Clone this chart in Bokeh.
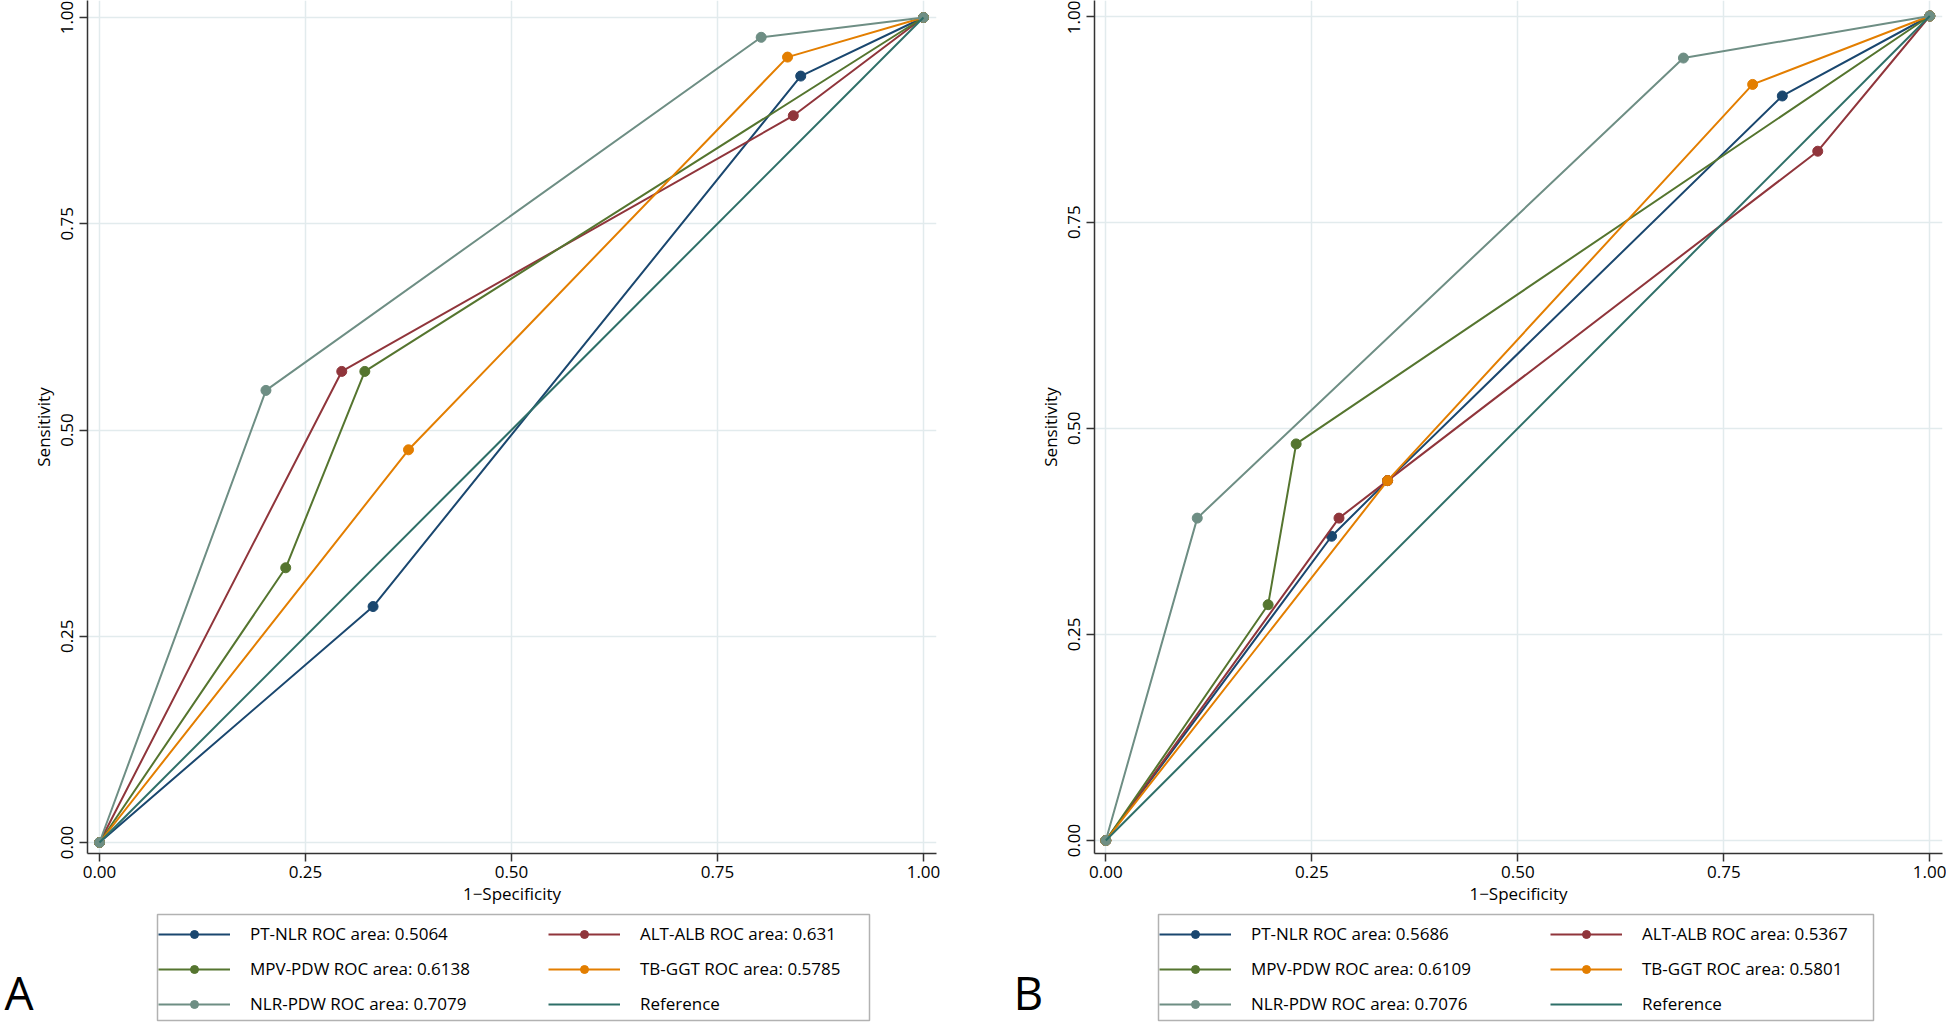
from bokeh.plotting import figure
from bokeh.models import Legend, LegendItem, Label, FixedTicker, Range1d, BoxAnnotation
from bokeh.layouts import row, column
from bokeh.embed import file_html
from bokeh.resources import INLINE

# ---------------- data ----------------
tick_values = [0, 0.25, 0.5, 0.75, 1.0]
tick_labels = ["0.00", "0.25", "0.50", "0.75", "1.00"]

series_colors = {
    "PT-NLR": "#1a476f",
    "ALT-ALB": "#90353b",
    "MPV-PDW": "#55752f",
    "TB-GGT": "#e37e00",
    "NLR-PDW": "#6e8e84",
}
reference_color = "#2e6f68"
reference_x = [0, 1]
reference_y = [0, 1]

# Panel A
a_pt_nlr_x = [0, 0.332, 0.851, 1]
a_pt_nlr_y = [0, 0.286, 0.929, 1]
a_alt_alb_x = [0, 0.294, 0.842, 1]
a_alt_alb_y = [0, 0.571, 0.881, 1]
a_mpv_pdw_x = [0, 0.226, 0.322, 1]
a_mpv_pdw_y = [0, 0.333, 0.571, 1]
a_tb_ggt_x = [0, 0.375, 0.835, 1]
a_tb_ggt_y = [0, 0.476, 0.952, 1]
a_nlr_pdw_x = [0, 0.202, 0.803, 1]
a_nlr_pdw_y = [0, 0.548, 0.976, 1]
a_areas = {"PT-NLR": "0.5064", "ALT-ALB": "0.631", "MPV-PDW": "0.6138",
           "TB-GGT": "0.5785", "NLR-PDW": "0.7079"}

# Panel B
b_pt_nlr_x = [0, 0.274, 0.342, 0.821, 1]
b_pt_nlr_y = [0, 0.369, 0.4365, 0.903, 1]
b_alt_alb_x = [0, 0.283, 0.342, 0.864, 1]
b_alt_alb_y = [0, 0.391, 0.4365, 0.836, 1]
b_mpv_pdw_x = [0, 0.197, 0.231, 1]
b_mpv_pdw_y = [0, 0.286, 0.481, 1]
b_tb_ggt_x = [0, 0.342, 0.785, 1]
b_tb_ggt_y = [0, 0.4365, 0.917, 1]
b_nlr_pdw_x = [0, 0.111, 0.701, 1]
b_nlr_pdw_y = [0, 0.391, 0.949, 1]
b_areas = {"PT-NLR": "0.5686", "ALT-ALB": "0.5367", "MPV-PDW": "0.6109",
           "TB-GGT": "0.5801", "NLR-PDW": "0.7076"}

legend_col1 = ["PT-NLR", "MPV-PDW", "NLR-PDW"]
legend_col2 = ["ALT-ALB", "TB-GGT", "Reference"]

FONT = "Open Sans"
FRAME_H = 853
PLOT_H = 908
LEG_H = 114
TOTAL_W = 1946


def make_plot(series, width, border_left, border_right, xr, yr):
    p = figure(width=width, height=PLOT_H, output_backend="svg",
               toolbar_location=None,
               x_range=Range1d(*xr), y_range=Range1d(*yr),
               min_border_left=border_left, min_border_right=border_right,
               min_border_top=0, min_border_bottom=PLOT_H - FRAME_H)
    p.outline_line_color = None
    p.background_fill_color = "white"
    p.border_fill_color = "white"

    for ax in (p.xaxis[0], p.yaxis[0]):
        ax.ticker = FixedTicker(ticks=tick_values)
        ax.major_label_overrides = {v: s for v, s in zip(tick_values, tick_labels)}
        ax.major_tick_in = 0
        ax.major_tick_out = 8
        ax.minor_tick_in = 0
        ax.minor_tick_out = 0
        ax.major_tick_line_color = "#333333"
        ax.major_tick_line_width = 1.5
        ax.axis_line_color = "#333333"
        ax.axis_line_width = 1.5
        ax.major_label_text_font = FONT
        ax.major_label_text_font_size = "17px"
        ax.major_label_text_color = "black"
        ax.axis_label_text_font = FONT
        ax.axis_label_text_font_size = "17px"
        ax.axis_label_text_font_style = "normal"
        ax.axis_label_text_color = "black"
    p.xaxis.major_label_standoff = 4
    p.xaxis.axis_label_standoff = 1
    p.yaxis.major_label_standoff = 7
    p.yaxis.axis_label_standoff = 3
    p.xaxis.axis_label = "1\u2212Specificity"
    p.yaxis.axis_label = "Sensitivity"
    p.yaxis.major_label_orientation = "vertical"

    for g in (p.xgrid[0], p.ygrid[0]):
        g.ticker = FixedTicker(ticks=tick_values)
        g.grid_line_color = "#e2ebed"
        g.grid_line_width = 1.5

    for name, xs, ys in series:
        c = series_colors[name]
        p.line(xs, ys, line_color=c, line_width=2)
        p.scatter(xs, ys, marker="circle", size=10, fill_color=c, line_color=c)
    p.line(reference_x, reference_y, line_color=reference_color, line_width=2)
    return p


# bottom strip holding both legends and the panel letters (1 data unit = 1 px)
q = figure(width=TOTAL_W, height=LEG_H, output_backend="svg",
           toolbar_location=None,
           x_range=Range1d(0, TOTAL_W), y_range=Range1d(0, LEG_H),
           min_border=0)
q.axis.visible = False
q.grid.visible = False
q.outline_line_color = None
q.background_fill_color = "white"
q.border_fill_color = "white"

# legend-key renderers (kept off-screen; they only supply the key glyphs)
key_renderers = {}
for name, c in series_colors.items():
    ln = q.line([-1e5, -1e5 + 1], [-1e5, -1e5], line_color=c, line_width=2)
    sc = q.scatter([-1e5], [-1e5], marker="circle", size=12,
                   fill_color=c, line_color=c)
    key_renderers[name] = [ln, sc]
key_renderers["Reference"] = [q.line([-1e5, -1e5 + 1], [-1e5, -1e5],
                                     line_color=reference_color, line_width=2)]


def add_legend(areas, letter, box_left, box_right, col2_x, letter_x):
    q.add_layout(BoxAnnotation(left=box_left, right=box_right, bottom=2,
                               top=108, fill_color="white", fill_alpha=1,
                               line_color="black", line_width=1.5))

    def label_for(k):
        return "Reference" if k == "Reference" else f"{k} ROC area: {areas[k]}"

    for keys, lx in ((legend_col1, box_left + 1), (legend_col2, col2_x)):
        legend = Legend(items=[LegendItem(label=label_for(k),
                                          renderers=key_renderers[k])
                               for k in keys],
                        orientation="vertical",
                        location=(lx, 7),
                        border_line_color=None,
                        background_fill_alpha=0,
                        label_text_font=FONT, label_text_font_size="17px",
                        label_text_color="black",
                        glyph_width=72, glyph_height=20, label_height=20,
                        label_standoff=20, padding=6,
                        spacing=12, margin=0)
        q.add_layout(legend, "center")

    q.add_layout(Label(x=letter_x, y=31, text=letter, text_font=FONT,
                       text_font_size="46px", text_color="black",
                       text_baseline="middle"))


series_a = [("PT-NLR", a_pt_nlr_x, a_pt_nlr_y),
            ("ALT-ALB", a_alt_alb_x, a_alt_alb_y),
            ("MPV-PDW", a_mpv_pdw_x, a_mpv_pdw_y),
            ("TB-GGT", a_tb_ggt_x, a_tb_ggt_y),
            ("NLR-PDW", a_nlr_pdw_x, a_nlr_pdw_y)]
series_b = [("PT-NLR", b_pt_nlr_x, b_pt_nlr_y),
            ("ALT-ALB", b_alt_alb_x, b_alt_alb_y),
            ("MPV-PDW", b_mpv_pdw_x, b_mpv_pdw_y),
            ("TB-GGT", b_tb_ggt_x, b_tb_ggt_y),
            ("NLR-PDW", b_nlr_pdw_x, b_nlr_pdw_y)]

# frame A: page x 87..936 (x0=99, 824 px/unit); page y 0..853 (y1=17, y0=842)
pa = make_plot(series_a, 1000, 87, 64,
               (-12 / 824, 1 + 13 / 824), (-11 / 825, 1 + 17 / 825))
# frame B: page x 1094..1942 (x0=1105.3, 824 px/unit); page y 0..853 (y1=15.5, y0=840)
pb = make_plot(series_b, 946, 94, 4,
               (-11.3 / 824, 1 + 12.7 / 824), (-13 / 824.5, 1 + 15.5 / 824.5))

add_legend(a_areas, "A", 157, 869, 548, 4)
add_legend(b_areas, "B", 1158, 1873, 1550, 1013)

layout = column(row(pa, pb), q)
open("out.html", "w").write(file_html(layout, INLINE))
